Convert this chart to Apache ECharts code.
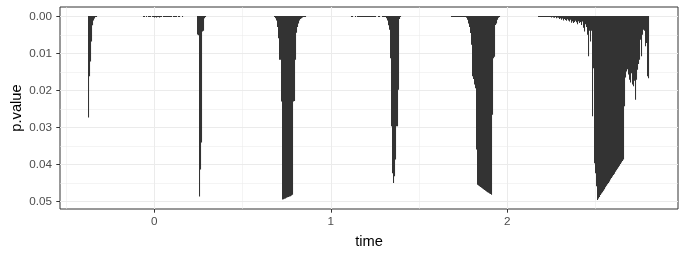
<!DOCTYPE html>
<html>
<head>
<meta charset="utf-8">
<script src="https://cdn.jsdelivr.net/npm/echarts@6/dist/echarts.min.js"></script>
<style>
html,body{margin:0;padding:0;background:#fff;}
#chart{width:685px;height:253px;}
</style>
</head>
<body>
<div id="chart"></div>
<script>
// ---- data (time, p.value) ----
var burst1Time = [-0.3756, -0.3700, -0.3643, -0.3586, -0.3530, -0.3473, -0.3416, -0.3360, -0.3303];
var burst1P    = [0.0274, 0.0163, 0.0123, 0.0069, 0.0025, 0.0012, 0.0007, 0.0003, 0.0001];

var burst2Time = [-0.0640, -0.0584, -0.0470, -0.0357, -0.0300, -0.0244, -0.0130, -0.0074, -0.0017, 0.0040, 0.0096, 0.0153, 0.0210, 0.0266, 0.0323, 0.0380, 0.0493, 0.0550, 0.0606, 0.0663, 0.0720, 0.0776, 0.0833, 0.0890, 0.0946, 0.1060, 0.1116, 0.1173, 0.1229, 0.1343, 0.1399, 0.1569];
var burst2P    = [0.0002, 0.0002, 0.0002, 0.0002, 0.0002, 0.0002, 0.0003, 0.0003, 0.0004, 0.0003, 0.0004, 0.0003, 0.0003, 0.0004, 0.0003, 0.0003, 0.0002, 0.0002, 0.0002, 0.0002, 0.0002, 0.0002, 0.0002, 0.0002, 0.0002, 0.0002, 0.0002, 0.0002, 0.0002, 0.0002, 0.0002, 0.0002];

var burst3Time = [0.2419, 0.2476, 0.2533, 0.2589, 0.2646, 0.2703, 0.2759, 0.2816, 0.2873];
var burst3P    = [0.0050, 0.0052, 0.0488, 0.0415, 0.0342, 0.0042, 0.0040, 0.0006, 0.0003];

var burst4Time = [0.6782, 0.6838, 0.6895, 0.6952, 0.7008, 0.7065, 0.7122, 0.7178, 0.7235, 0.7292, 0.7348, 0.7405, 0.7462, 0.7518, 0.7575, 0.7632, 0.7688, 0.7745, 0.7802, 0.7858, 0.7915, 0.7971, 0.8028, 0.8085, 0.8141, 0.8198, 0.8255, 0.8311, 0.8368, 0.8425, 0.8481, 0.8538];
var burst4P    = [0.0003, 0.0006, 0.0012, 0.0030, 0.0060, 0.0118, 0.0118, 0.0231, 0.0496, 0.0495, 0.0494, 0.0493, 0.0491, 0.0490, 0.0489, 0.0488, 0.0487, 0.0485, 0.0483, 0.0231, 0.0230, 0.0118, 0.0045, 0.0030, 0.0020, 0.0012, 0.0008, 0.0006, 0.0004, 0.0003, 0.0002, 0.0001];

var burst5Time = [1.1144, 1.1201, 1.1371, 1.1484, 1.1541, 1.1598, 1.1654, 1.1711, 1.1768, 1.1824, 1.1881, 1.1938, 1.1994, 1.2051, 1.2108, 1.2164, 1.2221, 1.2277, 1.2334, 1.2391, 1.2447, 1.2504, 1.2674, 1.2731, 1.2900, 1.2957, 1.3014, 1.3070, 1.3127, 1.3184, 1.3240, 1.3297, 1.3354, 1.3410, 1.3467, 1.3524, 1.3580, 1.3637, 1.3694, 1.3750, 1.3807, 1.3864, 1.3920];
var burst5P    = [0.0002, 0.0002, 0.0002, 0.0002, 0.0002, 0.0002, 0.0002, 0.0002, 0.0002, 0.0002, 0.0002, 0.0002, 0.0002, 0.0002, 0.0002, 0.0002, 0.0002, 0.0002, 0.0002, 0.0002, 0.0002, 0.0002, 0.0002, 0.0002, 0.0002, 0.0002, 0.0002, 0.0003, 0.0006, 0.0012, 0.0025, 0.0037, 0.0114, 0.0298, 0.0425, 0.0451, 0.0433, 0.0388, 0.0298, 0.0298, 0.0199, 0.0008, 0.0003];

var burst6Time = [1.6810, 1.6867, 1.6923, 1.6980, 1.7036, 1.7093, 1.7150, 1.7207, 1.7263, 1.7320, 1.7377, 1.7433, 1.7490, 1.7547, 1.7603, 1.7660, 1.7717, 1.7773, 1.7830, 1.7887, 1.7943, 1.8000, 1.8057, 1.8113, 1.8170, 1.8226, 1.8283, 1.8340, 1.8396, 1.8453, 1.8510, 1.8566, 1.8623, 1.8680, 1.8736, 1.8793, 1.8850, 1.8906, 1.8963, 1.9020, 1.9076, 1.9133, 1.9189, 1.9246, 1.9303, 1.9359, 1.9416, 1.9473, 1.9529];
var burst6P    = [0.0001, 0.0001, 0.0001, 0.0001, 0.0001, 0.0001, 0.0001, 0.0001, 0.0001, 0.0001, 0.0002, 0.0002, 0.0002, 0.0003, 0.0003, 0.0005, 0.0010, 0.0020, 0.0030, 0.0046, 0.0078, 0.0163, 0.0170, 0.0185, 0.0195, 0.0361, 0.0456, 0.0458, 0.0460, 0.0462, 0.0464, 0.0466, 0.0468, 0.0470, 0.0472, 0.0474, 0.0476, 0.0478, 0.0480, 0.0481, 0.0483, 0.0267, 0.0114, 0.0110, 0.0024, 0.0020, 0.0010, 0.0005, 0.0002];

var burst7Time = [2.1739, 2.1796, 2.1853, 2.1909, 2.1966, 2.2022, 2.2079, 2.2136, 2.2192, 2.2249, 2.2306, 2.2362, 2.2419, 2.2476, 2.2532, 2.2589, 2.2646, 2.2702, 2.2759, 2.2816, 2.2872, 2.2929, 2.2986, 2.3042, 2.3099, 2.3155, 2.3212, 2.3269, 2.3325, 2.3382, 2.3439, 2.3495, 2.3552, 2.3609, 2.3665, 2.3722, 2.3779, 2.3835, 2.3892, 2.3949, 2.4005, 2.4062, 2.4119, 2.4175, 2.4232, 2.4288, 2.4345, 2.4402, 2.4458, 2.4515, 2.4572, 2.4628, 2.4685, 2.4742, 2.4798, 2.4855, 2.4912, 2.4968, 2.5025, 2.5082, 2.5138, 2.5195, 2.5252, 2.5308, 2.5365, 2.5421, 2.5478, 2.5535, 2.5591, 2.5648, 2.5705, 2.5761, 2.5818, 2.5875, 2.5931, 2.5988, 2.6045, 2.6101, 2.6158, 2.6215, 2.6271, 2.6328, 2.6385, 2.6441, 2.6498, 2.6554, 2.6611, 2.6668, 2.6724, 2.6781, 2.6838, 2.6894, 2.6951, 2.7008, 2.7064, 2.7121, 2.7178, 2.7234, 2.7291, 2.7348, 2.7404, 2.7461, 2.7518, 2.7574, 2.7631, 2.7687, 2.7744, 2.7801, 2.7857, 2.7914, 2.7971];
var burst7P    = [0.0001, 0.0001, 0.0001, 0.0001, 0.0001, 0.0001, 0.0002, 0.0001, 0.0002, 0.0001, 0.0002, 0.0002,
                  0.0003, 0.0004, 0.0002, 0.0004, 0.0005, 0.0003, 0.0006, 0.0004,
                  0.0005, 0.0008, 0.0006, 0.0010, 0.0007, 0.0012, 0.0008, 0.0011, 0.0013, 0.0009,
                  0.0012, 0.0015, 0.0010, 0.0018, 0.0014, 0.0019, 0.0016, 0.0013, 0.0017, 0.0022, 0.0014, 0.0019, 0.0016,
                  0.0024, 0.0015, 0.0032, 0.0042, 0.0022, 0.0030, 0.0051, 0.0109, 0.0040, 0.0069, 0.0040, 0.0271, 0.0141, 0.0398, 0.0425, 0.0460, 0.0497,
                  0.0493, 0.0489, 0.0484, 0.0480, 0.0476, 0.0472, 0.0468, 0.0463, 0.0459, 0.0455, 0.0451, 0.0447, 0.0442, 0.0438, 0.0434, 0.0430, 0.0426, 0.0421, 0.0417, 0.0413, 0.0409, 0.0405, 0.0400, 0.0396, 0.0392, 0.0388,
                  0.0244, 0.0166, 0.0150, 0.0144, 0.0158, 0.0172, 0.0180, 0.0155, 0.0185, 0.0190, 0.0175, 0.0226, 0.0172, 0.0145, 0.0130, 0.0118, 0.0064, 0.0109, 0.0051, 0.0037, 0.0040, 0.0082, 0.0073, 0.0163, 0.0168];

var xTicks = [0, 1, 2];
var xMinorTicks = [-0.5, 0.5, 1.5, 2.5];
var yTicks = [0, 0.01, 0.02, 0.03, 0.04, 0.05];
var yMinorTicks = [0.005, 0.015, 0.025, 0.035, 0.045];

// ---- build ----
var times = [burst1Time, burst2Time, burst3Time, burst4Time, burst5Time, burst6Time, burst7Time];
var pvals = [burst1P, burst2P, burst3P, burst4P, burst5P, burst6P, burst7P];
var data = [];
for (var i = 0; i < times.length; i++) {
  for (var j = 0; j < times[i].length; j++) data.push([times[i][j], pvals[i][j]]);
}

var xMin = -0.5343, xMax = 2.9671;
var yMin = -0.00251, yMax = 0.05208;
var FONT = 'Liberation Sans, Arial, sans-serif';
var major = {color: '#EBEBEB', width: 1.07};
var minor = {color: '#EBEBEB', width: 0.53};

var chart = echarts.init(document.getElementById('chart'), null, {renderer: 'canvas'});
chart.setOption({
  animation: false,
  backgroundColor: '#ffffff',
  grid: {left: 60, right: 7, top: 7, bottom: 44, containLabel: false, outerBoundsMode: 'none', show: true,
         borderColor: '#333333', borderWidth: 1, backgroundColor: '#ffffff'},
  xAxis: [
    {type: 'value', min: xMin, max: xMax, position: 'bottom',
     axisLine: {show: false, onZero: false},
     axisTick: {show: true, length: 3.7, customValues: xTicks, lineStyle: {color: '#333333', width: 1}},
     axisLabel: {show: true, customValues: xTicks, margin: 7, color: '#4D4D4D', fontSize: 11.7, fontFamily: FONT,
                 formatter: function (v) { return String(v); }},
     splitLine: {show: true, lineStyle: major},
     name: 'time', nameLocation: 'middle', nameGap: 25, nameMoveOverlap: false,
     nameTextStyle: {color: '#000000', fontSize: 14.7, fontFamily: FONT}},
    {type: 'value', min: xMin, max: xMax, position: 'top',
     axisLine: {show: false, onZero: false},
     axisTick: {show: false, customValues: xMinorTicks},
     axisLabel: {show: false, customValues: xMinorTicks},
     splitLine: {show: true, lineStyle: minor}}
  ],
  yAxis: [
    {type: 'value', inverse: true, min: yMin, max: yMax, position: 'left',
     axisLine: {show: false, onZero: false},
     axisTick: {show: true, length: 3.7, customValues: yTicks, lineStyle: {color: '#333333', width: 1}},
     axisLabel: {show: true, customValues: yTicks, margin: 8, color: '#4D4D4D', fontSize: 11.7, fontFamily: FONT,
                 formatter: function (v) { return v.toFixed(2); }},
     splitLine: {show: true, lineStyle: major},
     name: 'p.value', nameLocation: 'middle', nameGap: 36, nameRotate: 90, nameMoveOverlap: false,
     nameTextStyle: {color: '#000000', fontSize: 14.7, fontFamily: FONT}},
    {type: 'value', inverse: true, min: yMin, max: yMax, position: 'right',
     axisLine: {show: false, onZero: false},
     axisTick: {show: false, customValues: yMinorTicks},
     axisLabel: {show: false, customValues: yMinorTicks},
     splitLine: {show: true, lineStyle: minor}}
  ],
  series: [{
    type: 'custom',
    xAxisIndex: 0, yAxisIndex: 0,
    clip: true,
    data: data,
    renderItem: function (params, api) {
      var a = api.coord([api.value(0), 0]);
      var b = api.coord([api.value(0), api.value(1)]);
      var h = Math.max(b[1] - a[1], 1);
      return {type: 'rect', shape: {x: Math.round(a[0]), y: Math.floor(a[1]), width: 1.05, height: h},
              style: {fill: '#333333'}};
    }
  }]
});
</script>
</body>
</html>
